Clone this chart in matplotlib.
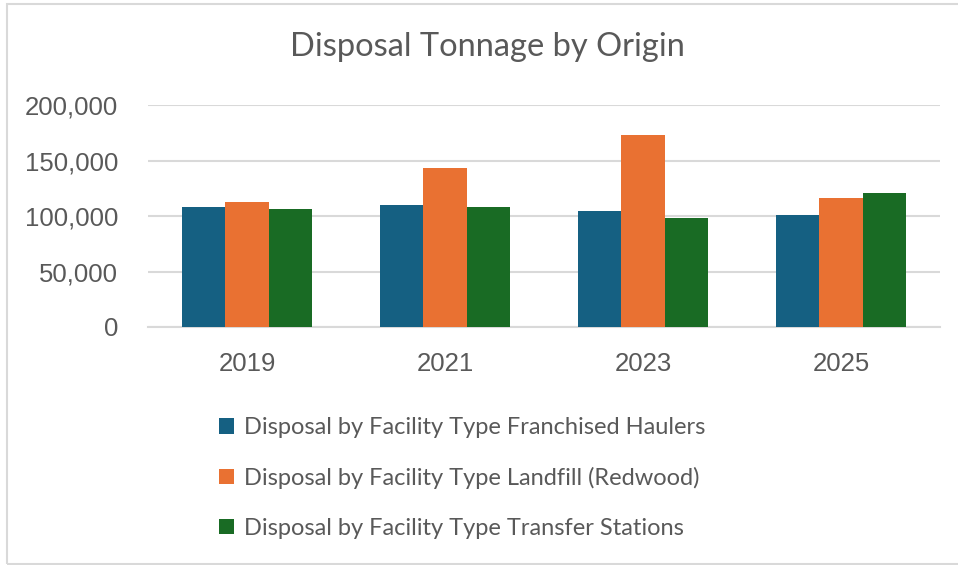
import numpy as np
import matplotlib.pyplot as plt
from matplotlib.patches import Rectangle
from matplotlib.ticker import FuncFormatter

years = ["2019", "2021", "2023", "2025"]
haulers = [108400, 109600, 104800, 101200]
landfill = [112900, 143000, 173000, 116500]
transfer = [106000, 108400, 97900, 121000]
labels = ["Disposal by Facility Type Franchised Haulers",
          "Disposal by Facility Type Landfill (Redwood)",
          "Disposal by Facility Type Transfer Stations"]
colors = ["#156082", "#E97132", "#196B24"]

text_col = "#595959"
grid_col = "#D9D9D9"

fig = plt.figure(figsize=(9.58, 5.65), dpi=100)
ax = fig.add_axes([148/958, 1-327/565, (940-148)/958, (327-105)/565])

x = np.arange(len(years))
w = 0.22
bars = []
for i, (vals, c) in enumerate(zip([haulers, landfill, transfer], colors)):
    b = ax.bar(x + (i-1)*w, vals, width=w, color=c, zorder=3)
    bars.append(b)

ax.set_xlim(-0.5, len(years)-0.5)
ax.set_ylim(0, 200000)
ax.set_yticks(np.arange(0, 200001, 50000))
ax.yaxis.set_major_formatter(FuncFormatter(lambda v, p: f"{int(v):,}"))
ax.grid(axis="y", color=grid_col, linewidth=1.5, zorder=0)
for s in ["top", "right", "left"]:
    ax.spines[s].set_visible(False)
ax.spines["bottom"].set_color(grid_col)
ax.spines["bottom"].set_linewidth(1.5)
ax.tick_params(length=0)
ax.tick_params(axis="y", pad=21.5, labelsize=18.5, labelcolor=text_col)
ax.tick_params(axis="x", pad=18, labelsize=18.5, labelcolor=text_col)
for t in ax.get_yticklabels():
    t.set_family("Liberation Sans")
ax.set_xticks(x)
ax.set_xticklabels(years, family=["Liberation Sans Narrow", "Liberation Sans"])

fig.text(487/958, 1-47/565, "Disposal Tonnage by Origin", ha="center", va="center",
         fontsize=23.5, color=text_col, family="Lato")

fig.legend(bars, labels, loc="upper left", bbox_to_anchor=(219/958, 1-417/565),
           frameon=False, prop={"family": "Lato", "size": 17}, labelcolor=text_col,
           handlelength=0.64, handleheight=0.64, handletextpad=0.4, labelspacing=1.22,
           borderpad=0, borderaxespad=0)

fig.patches.append(Rectangle((7/958, 1/565), 2, 1-5/565, transform=fig.transFigure,
                             fill=False, edgecolor=grid_col, linewidth=1.5))

fig.savefig("out.png", dpi=100)
